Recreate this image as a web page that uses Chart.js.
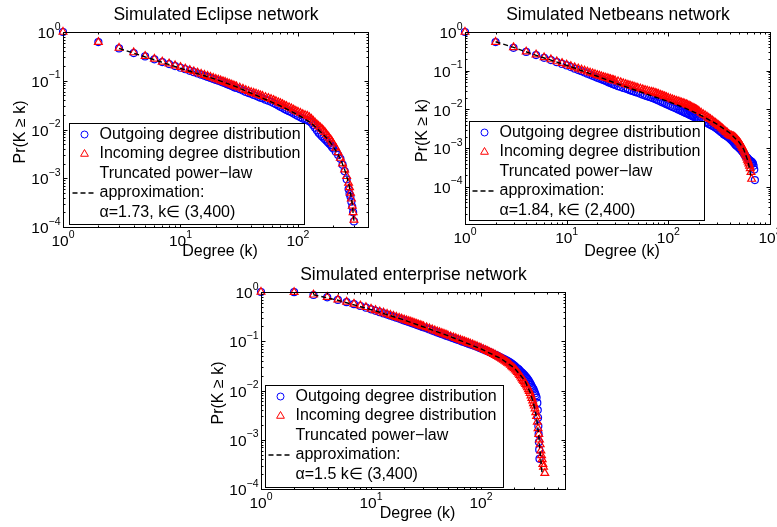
<!DOCTYPE html>
<html>
<head>
<meta charset="utf-8">
<script src="https://cdn.jsdelivr.net/npm/chart.js"></script>
<style>
  body { margin: 0; background: #fff; width: 777px; height: 527px; position: relative; overflow: hidden; }
  canvas { position: absolute; }
</style>
</head>
<body>
<canvas id="eclipse" width="385" height="262" style="left:0;top:0"></canvas>
<canvas id="netbeans" width="387" height="262" style="left:390px;top:0"></canvas>
<canvas id="enterprise" width="377" height="265" style="left:200px;top:262px"></canvas>
<script>
// degrees shared by every panel (k = 1 .. 100)
const baseK = [1,2,3,4,5,6,7,8,9,10,11,12,13,14,15,16,17,18,19,20,
  21,22,23,24,25,26,27,28,29,30, 32,34,36,38,40,42,44,46,48,50,
  53,56,59,62,65,68,71,74,77,80, 84,88,92,96,100];

// ---- Simulated Eclipse network ----
const eclipseK = baseK.concat([105,110,115,120,125,130,135,140,145,150,155,160,165,170,175,180,185,190,195,200,
  210,220,230,240,250,260,270, 275,280,285,290,295,300]);
const eclipseIn = [1,0.62,0.47,0.38,0.32,0.28,0.245,0.225,0.205,0.19,0.176,0.165,0.155,0.146,0.138,0.131,0.125,0.119,0.114,0.109,
  0.105,0.101,0.097,0.094,0.090,0.087,0.084,0.081,0.078,0.076,
  0.072,0.068,0.064,0.061,0.058,0.056,0.054,0.052,0.050,0.0485,
  0.046,0.044,0.042,0.040,0.038,0.036,0.0345,0.033,0.031,0.030,
  0.0285,0.027,0.0255,0.024,0.023,
  0.0218,0.0205,0.0196,0.019,0.0178,0.0165,0.015,0.0138,0.0127,0.0118,0.011,0.0103,0.0095,0.0088,0.008,0.0073,0.0067,0.0062,0.0056,0.0051,
  0.0042,0.0034,0.0026,0.002,0.0015,0.0011,0.0008,
  0.00065,0.0005,0.00038,0.00027,0.0002,0.00014];
const eclipseOut = [1,0.62,0.46,0.37,0.315,0.275,0.242,0.22,0.2,0.185,0.172,0.16,0.15,0.141,0.133,0.126,0.12,0.114,0.109,0.104,
  0.100,0.096,0.092,0.089,0.085,0.082,0.079,0.076,0.073,0.071,
  0.067,0.063,0.059,0.056,0.054,0.051,0.049,0.047,0.045,0.0435,
  0.041,0.039,0.037,0.035,0.033,0.031,0.0292,0.0278,0.0262,0.025,
  0.0238,0.0225,0.0212,0.02,0.019,
  0.0178,0.0168,0.016,0.0155,0.0148,0.0138,0.0122,0.0108,0.0096,0.0086,0.0079,0.0073,0.0068,0.0063,0.0059,0.0055,0.0051,0.0048,0.0044,0.0041,
  0.0035,0.003,0.0025,0.0019,0.0014,0.00095,0.0006,
  0.00048,0.00042,0.00033,0.00026,0.0002,0.00013];
const eclipseFitK = [3,5,10,20,30,50,70,100,130,150,180,200,230,250,260,270,280,290,300];
const eclipseFit = [0.46,0.31,0.18,0.107,0.075,0.044,0.031,0.02,0.0135,0.0098,0.0063,0.0045,0.0025,0.0015,0.0011,0.0008,0.0005,0.0003,0.00013];

// ---- Simulated Netbeans network ----
const netInK = baseK.concat([105,110,115,120,125,130,135,140,145,150,155,160,165,170,175,180,185,190,195,200,
  210,220,230,240,250,260,270,280,290,300,310,320,330,340,350,360,370,380,390,400,410,420,430,440,450,
  460,470,480,490,500,510,520,530,540,550,560,570,580,590,600,610,620,630,640,650,660]);
const netIn = [1,0.55,0.40,0.31,0.26,0.22,0.195,0.173,0.157,0.143,0.131,0.121,0.113,0.106,0.100,0.094,0.089,0.085,0.081,0.077,
  0.074,0.071,0.0685,0.066,0.064,0.062,0.060,0.058,0.0565,0.055,
  0.0525,0.050,0.047,0.045,0.043,0.0415,0.040,0.0385,0.037,0.036,
  0.0345,0.033,0.0315,0.0305,0.029,0.0285,0.0278,0.0268,0.0258,0.025,
  0.0238,0.0227,0.0217,0.0207,0.0198,
  0.0189,0.018,0.0173,0.0166,0.016,0.0155,0.015,0.0145,0.014,0.0135,0.013,0.0125,0.012,0.0115,0.011,0.0106,0.0102,0.0098,0.0094,0.009,
  0.0082,0.0075,0.007,0.0065,0.006,0.0056,0.0052,0.0048,0.0045,0.0042,0.0039,0.0037,0.0034,0.0032,0.003,
  0.0028,0.0026,0.0025,0.0023,0.0022,0.0021,0.0021,0.002,0.002,0.0019,0.0018,0.0017,0.0016,0.0015,0.0014,
  0.0013,0.0012,0.0011,0.001,0.0009,0.0008,0.00072,0.00065,0.00057,0.0005,0.00045,0.0004,0.00035,0.0003,0.00024,0.00016];
const netOutK = baseK.concat([105,110,115,120,125,130,135,140,145,150,155,160,165,170,175,180,185,190,195,200,
  210,220,230,240,250,260,270,280,290,300,310,320,330,340,350,360,370,380,390,400,410,420,430,440,450,
  460,470,480,490,500,510,520,530,540,550,560,570,580,590,600,610,620,630,640,650,660,670,680,690,700,710]);
const netOut = [1,0.55,0.39,0.305,0.253,0.215,0.188,0.166,0.15,0.137,0.124,0.113,0.104,0.097,0.09,0.084,0.079,0.074,0.07,0.066,
  0.063,0.06,0.0575,0.055,0.0525,0.05,0.048,0.046,0.0445,0.043,
  0.040,0.038,0.036,0.0345,0.033,0.0315,0.030,0.029,0.028,0.027,
  0.0255,0.024,0.0228,0.022,0.021,0.0203,0.0195,0.0186,0.0178,0.017,
  0.016,0.0152,0.0144,0.0137,0.013,
  0.0123,0.0116,0.011,0.0105,0.01,0.0095,0.0091,0.0087,0.0083,0.008,0.0077,0.0074,0.0071,0.0069,0.0066,0.0064,0.0062,0.006,0.0058,0.0056,
  0.0053,0.005,0.0047,0.0045,0.0042,0.004,0.0038,0.0036,0.0034,0.0032,0.003,0.0028,0.0026,0.0025,0.0023,
  0.0022,0.0021,0.002,0.0019,0.0018,0.0017,0.0016,0.0015,0.0014,0.0013,0.0012,0.00115,0.0011,0.00105,0.001,
  0.00095,0.0009,0.00085,0.0008,0.00075,0.0007,0.00065,0.0006,0.00058,0.00055,0.00052,0.0005,0.00048,0.00047,0.00045,
  0.00044,0.00042,0.0004,0.00035,0.00028,0.00015];
const netFitK = [2,3,5,10,20,30,50,70,100,150,200,300,400,500,550,600,630,650];
const netFit = [0.56,0.40,0.25,0.138,0.072,0.048,0.03,0.022,0.016,0.0105,0.0075,0.0042,0.0025,0.0014,0.00095,0.0005,0.0003,0.00017];

// ---- Simulated enterprise network ----
const entMidK = [105,110,115,120,125,130,135,140,145,150,155,160,165,170,175,180,185,190,195,200,
  205,210,215,220,225,230,235,240,245,250,255,260,265,270,275,280,285,290,295,300,305,310,315,320];
const entInK = baseK.concat(entMidK, [325,330,335,340,345,350,355,360,365,370,380]);
const entIn = [1,0.99,0.88,0.79,0.70,0.63,0.575,0.53,0.49,0.455,0.425,0.40,0.378,0.358,0.34,0.325,0.31,0.298,0.286,0.275,
  0.265,0.256,0.248,0.24,0.232,0.225,0.218,0.212,0.206,0.2,
  0.191,0.182,0.173,0.165,0.158,0.152,0.146,0.141,0.136,0.131,
  0.125,0.12,0.115,0.11,0.106,0.102,0.099,0.095,0.092,0.089,
  0.086,0.082,0.079,0.075,0.073,
  0.069,0.066,0.063,0.06,0.0575,0.055,0.0525,0.05,0.048,0.046,0.044,0.042,0.04,0.038,0.0365,0.035,0.033,0.031,0.0295,0.028,
  0.0265,0.025,0.0235,0.022,0.0205,0.019,0.0177,0.0165,0.0155,0.0145,0.0135,0.0125,0.0115,0.0105,0.0097,0.0088,0.0079,0.007,0.0062,0.0055,
  0.0049,0.0043,0.0036,0.003,
  0.0023,0.0017,0.0013,0.001,0.0008,0.0006,0.00048,0.0004,0.00032,0.00028,0.00021];
const entOutK = baseK.concat(entMidK, [325,328,330,332,334,336,338,340]);
const entOut = [1,0.99,0.87,0.78,0.69,0.62,0.565,0.52,0.48,0.445,0.415,0.39,0.368,0.348,0.33,0.315,0.30,0.288,0.276,0.265,
  0.255,0.246,0.238,0.23,0.223,0.216,0.209,0.203,0.197,0.192,
  0.183,0.174,0.165,0.158,0.151,0.145,0.14,0.135,0.13,0.126,
  0.12,0.115,0.11,0.106,0.102,0.098,0.095,0.092,0.089,0.086,
  0.083,0.08,0.077,0.074,0.071,
  0.068,0.065,0.0625,0.06,0.0575,0.055,0.053,0.051,0.049,0.047,0.0455,0.044,0.0425,0.041,0.0395,0.038,0.0365,0.035,0.0335,0.032,
  0.0305,0.029,0.028,0.027,0.0255,0.024,0.023,0.022,0.021,0.02,0.019,0.018,0.017,0.016,0.015,0.014,0.013,0.012,0.0112,0.0105,
  0.0096,0.0088,0.008,0.0072,
  0.0056,0.004,0.0028,0.0019,0.0013,0.0009,0.00063,0.00041];
const entFitK = [3,5,10,20,50,100,150,200,250,280,300,320,335,345,358];
const entFit = [0.88,0.68,0.44,0.27,0.13,0.07,0.045,0.029,0.016,0.009,0.0055,0.0028,0.0012,0.00055,0.00022];

// tick exponents (labels 10^e)
const eclipseXExp = [0, 1, 2];
const netXExp = [0, 1, 2, 3];
const entXExp = [0, 1, 2];
const yExp = [0, -1, -2, -3, -4];

const FONT = "'Liberation Sans', Arial, Helvetica, sans-serif";

function pts(ks, ps) { return ks.map((k, i) => ({ x: k, y: ps[i] })); }

function logTicks(min, max) {
  const out = [];
  for (let e = Math.floor(Math.log10(min)); e <= Math.ceil(Math.log10(max)); e++) {
    for (let m = 1; m <= 9; m++) {
      const v = m * Math.pow(10, e);
      if (v >= min * 0.999 && v <= max * 1.001) out.push({ v: v, major: m === 1 });
    }
  }
  return out;
}

function drawPow(ctx, e, x, cy, align) {
  const base = '10', ex = e < 0 ? '\u2212' + (-e) : String(e);
  ctx.font = '15.5px ' + FONT;
  const bw = ctx.measureText(base).width;
  ctx.font = '10.5px ' + FONT;
  const ew = ctx.measureText(ex).width;
  const sx = align === 'center' ? x - (bw + ew) / 2 : x - bw - ew;
  ctx.textAlign = 'left';
  ctx.textBaseline = 'alphabetic';
  ctx.font = '15.5px ' + FONT;
  ctx.fillText(base, sx, cy + 5.6);
  ctx.font = '10.5px ' + FONT;
  ctx.fillText(ex, sx + bw, cy - 3);
}

const matlabAxes = {
  id: 'matlabAxes',
  afterDatasetsDraw(chart, args, o) {
    const ctx = chart.ctx, a = chart.chartArea;
    const xs = chart.scales.x, ys = chart.scales.y;
    const L = Math.round(a.left) + 0.5, R = Math.round(a.right) + 0.5;
    const T = Math.round(a.top) + 0.5, B = Math.round(a.bottom) + 0.5;
    ctx.save();
    ctx.strokeStyle = '#000';
    ctx.lineWidth = 1;
    ctx.strokeRect(L, T, R - L, B - T);
    ctx.beginPath();
    logTicks(xs.min, xs.max).forEach(t => {
      const px = Math.round(xs.getPixelForValue(t.v)) + 0.5, len = t.major ? 4 : 2;
      ctx.moveTo(px, B); ctx.lineTo(px, B - len);
      ctx.moveTo(px, T); ctx.lineTo(px, T + len);
    });
    logTicks(ys.min, ys.max).forEach(t => {
      const py = Math.round(ys.getPixelForValue(t.v)) + 0.5, len = t.major ? 4 : 2;
      ctx.moveTo(L, py); ctx.lineTo(L + len, py);
      ctx.moveTo(R, py); ctx.lineTo(R - len, py);
    });
    ctx.stroke();

    ctx.fillStyle = '#000';
    o.xExp.forEach(e => drawPow(ctx, e, xs.getPixelForValue(Math.pow(10, e)), B + 13, 'center'));
    o.yExp.forEach(e => drawPow(ctx, e, L - 3, ys.getPixelForValue(Math.pow(10, e)) + 0.5, 'right'));

    const cx = (L + R) / 2;
    ctx.textAlign = 'center';
    ctx.textBaseline = 'alphabetic';
    ctx.font = '17.5px ' + FONT;
    ctx.fillText(o.title, cx, T - 13);
    ctx.font = '16px ' + FONT;
    ctx.fillText('Degree (k)', cx + 4, B + o.xTitleGap + 5.7);
    ctx.save();
    ctx.translate(L - 43, (T + B) / 2 + 2);
    ctx.rotate(-Math.PI / 2);
    ctx.textBaseline = 'middle';
    ctx.fillText('Pr(K \u2265 k)', 0, 0);
    ctx.restore();
    ctx.restore();
  },
  afterDraw(chart, args, o) {
    const ctx = chart.ctx, a = chart.chartArea, b = o.legendBox;
    const x0 = Math.round(a.left + b.x) + 0.5, y0 = Math.round(a.top + b.y) + 0.5;
    const step = 19.5;
    ctx.save();
    ctx.fillStyle = '#fff';
    ctx.fillRect(x0, y0, b.w, b.h);
    ctx.strokeStyle = '#000';
    ctx.lineWidth = 1;
    ctx.strokeRect(x0, y0, b.w, b.h);
    ctx.font = '16px ' + FONT;
    ctx.textAlign = 'left';
    ctx.textBaseline = 'middle';
    let row = 0;
    chart.data.datasets.forEach(ds => {
      const lines = ds.label.split('\n');
      ctx.fillStyle = '#000';
      lines.forEach((t, i) => ctx.fillText(t, x0 + 30, y0 + 11 + (row + i) * step));
      const cy = y0 + 11 + (row + Math.floor((lines.length - 1) / 2)) * step, cx = x0 + 15;
      ctx.strokeStyle = ds.borderColor;
      ctx.lineWidth = ds.showLine ? ds.borderWidth : 1;
      ctx.beginPath();
      if (ds.showLine) {
        ctx.setLineDash(ds.borderDash);
        ctx.moveTo(x0 + 3, cy); ctx.lineTo(x0 + 27, cy);
      } else if (ds.pointStyle === 'triangle') {
        const r = ds.pointRadius;
        ctx.moveTo(cx, cy - r);
        ctx.lineTo(cx + r * 0.866, cy + r / 2);
        ctx.lineTo(cx - r * 0.866, cy + r / 2);
        ctx.closePath();
      } else {
        ctx.arc(cx, cy, ds.pointRadius, 0, Math.PI * 2);
      }
      ctx.stroke();
      ctx.setLineDash([]);
      row += lines.length;
    });
    ctx.restore();
  }
};

function makeChart(id, c) {
  return new Chart(document.getElementById(id), {
    type: 'scatter',
    data: {
      datasets: [
        { label: 'Outgoing degree distribution', data: pts(c.outK, c.out), pointStyle: 'circle', pointRadius: 3.5,
          borderColor: '#0000ff', backgroundColor: 'rgba(0,0,0,0)', borderWidth: 1.2, clip: false, order: 2 },
        { label: 'Incoming degree distribution', data: pts(c.inK, c.inp), pointStyle: 'triangle', pointRadius: 4.5,
          borderColor: '#ff0000', backgroundColor: 'rgba(0,0,0,0)', borderWidth: 1.2, clip: false, order: 1 },
        { label: c.fitLabel, data: pts(c.fitK, c.fit), showLine: true, pointRadius: 0, borderColor: '#000000',
          borderWidth: 1.4, borderDash: [5, 3], fill: false, tension: 0, clip: false, order: 0 }
      ]
    },
    options: {
      responsive: false,
      animation: false,
      events: [],
      layout: { padding: c.pad },
      scales: {
        x: { type: 'logarithmic', display: false, min: 1, max: c.xMax },
        y: { type: 'logarithmic', display: false, min: c.yMin, max: 1 }
      },
      plugins: {
        legend: { display: false },
        tooltip: { enabled: false },
        matlabAxes: { title: c.title, xExp: c.xExp, yExp: yExp, legendBox: c.legendBox, xTitleGap: c.xTitleGap }
      }
    },
    plugins: [matlabAxes]
  });
}

makeChart('eclipse', {
  title: 'Simulated Eclipse network',
  outK: eclipseK, out: eclipseOut, inK: eclipseK, inp: eclipseIn, fitK: eclipseFitK, fit: eclipseFit,
  fitLabel: 'Truncated power\u2212law\napproximation:\n\u03b1=1.73, k\u2208 (3,400)',
  xMax: 395, yMin: 1e-4, xExp: eclipseXExp,
  pad: { left: 63, top: 32, right: 17, bottom: 35 },
  legendBox: { x: 6, y: 91, w: 235, h: 101 }, xTitleGap: 23
});

makeChart('netbeans', {
  title: 'Simulated Netbeans network',
  outK: netOutK, out: netOut, inK: netInK, inp: netIn, fitK: netFitK, fit: netFit,
  fitLabel: 'Truncated power\u2212law\napproximation:\n\u03b1=1.84, k\u2208 (2,400)',
  xMax: 1000, yMin: 1.1e-5, xExp: netXExp,
  pad: { left: 75, top: 32, right: 7, bottom: 38 },
  legendBox: { x: 4, y: 89, w: 235, h: 99 }, xTitleGap: 26
});

makeChart('enterprise', {
  title: 'Simulated enterprise network',
  outK: entOutK, out: entOut, inK: entInK, inp: entIn, fitK: entFitK, fit: entFit,
  fitLabel: 'Truncated power\u2212law\napproximation:\n\u03b1=1.5 k\u2208 (3,400)',
  xMax: 580, yMin: 1e-4, xExp: entXExp,
  pad: { left: 61, top: 30, right: 12, bottom: 38 },
  legendBox: { x: 4, y: 93, w: 238, h: 102 }, xTitleGap: 23
});
</script>
</body>
</html>
